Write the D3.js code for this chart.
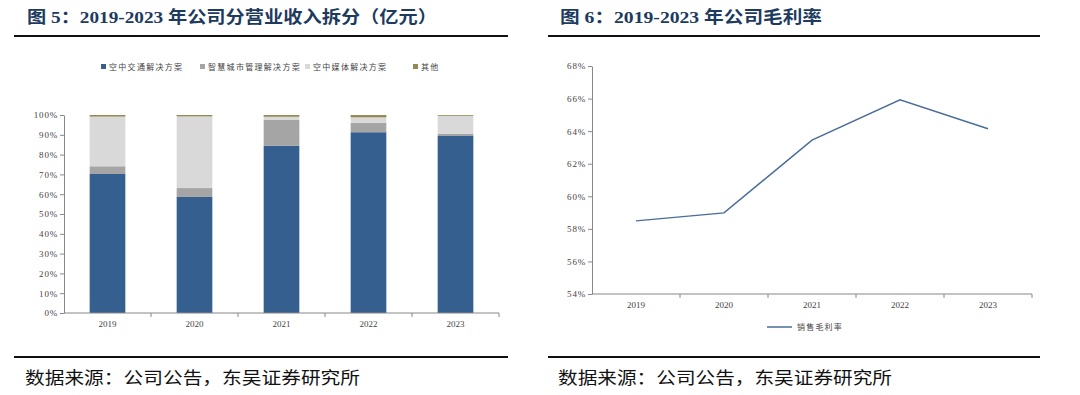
<!DOCTYPE html>
<html>
<head>
<meta charset="utf-8">
<script src="https://cdn.jsdelivr.net/npm/d3@7"></script>
<style>
  body { margin: 0; background: #fff; }
  svg { display: block; }
  .title { font-family: "Liberation Serif", "Noto Sans CJK SC", serif; font-weight: bold; fill: #1d3a5f; }
  .source { font-family: "Liberation Serif", "Noto Sans CJK SC", serif; fill: #111; }
  .axis text { font-family: "Liberation Serif", "Noto Sans CJK SC", serif; fill: #444; }
  .legend text { font-family: "Noto Sans CJK SC", sans-serif; fill: #444; }
</style>
</head>
<body>
<svg id="chart" width="1080" height="395"></svg>
<script>
//Data: revenue split (share of total)
const years = ['2019', '2020', '2021', '2022', '2023'];
const segments = ['空中交通解决方案', '智慧城市管理解决方案', '空中媒体解决方案', '其他'];
const segAir = [70.2, 58.6, 84.5, 91.3, 89.4];
const segCity = [3.9, 4.5, 13.0, 4.8, 1.0];
const segMedia = [25.1, 36.2, 1.6, 2.7, 9.2];
const segOther = [0.8, 0.7, 0.9, 1.2, 0.4];
const segColors = ['#355f8f', '#a5a5a5', '#d9d9d9', '#948a54'];

//Data: gross margin
const marginName = '销售毛利率';
const marginValues = [58.49, 58.98, 63.45, 65.93, 64.15];

const pctTicksLeft = [0, 10, 20, 30, 40, 50, 60, 70, 80, 90, 100];
const pctTicksRight = [54, 56, 58, 60, 62, 64, 66, 68];

const svg = d3.select('#chart');

//Header / footer of each panel
function panelFrame(x0, x1, tx, title, titleLen, srcX, srcLen){
	svg.append('text')
		.attr('class', 'title')
		.attr('x', tx).attr('y', 23)
		.attr('font-size', 17)
		.attr('textLength', titleLen)
		.attr('lengthAdjust', 'spacingAndGlyphs')
		.text(title);

	svg.append('line')
		.attr('x1', x0).attr('x2', x1)
		.attr('y1', 36).attr('y2', 36)
		.style('stroke', '#111').style('stroke-width', 2);

	svg.append('line')
		.attr('x1', x0).attr('x2', x1)
		.attr('y1', 357).attr('y2', 357)
		.style('stroke', '#111').style('stroke-width', 2);

	svg.append('text')
		.attr('class', 'source')
		.attr('x', srcX).attr('y', 384)
		.attr('font-size', 17)
		.attr('textLength', srcLen)
		.attr('lengthAdjust', 'spacingAndGlyphs')
		.text('数据来源：公司公告，东吴证券研究所');
}

panelFrame(14, 508, 27, '图 5：2019-2023 年公司分营业收入拆分（亿元）', 410, 25, 335);
panelFrame(548, 1040, 560, '图 6：2019-2023 年公司毛利率', 262, 558, 334);

//Left chart: stacked bars
(function(){
	const x = d3.scaleBand().domain(years).range([64, 499]).paddingInner(0.59).paddingOuter(0.295);
	const xb = d3.scaleBand().domain(years).range([64, 499]);
	const y = d3.scaleLinear().domain([0, 100]).range([313, 115]);

	const rows = years.map((yr, i) => ({year: yr, s0: segAir[i], s1: segCity[i], s2: segMedia[i], s3: segOther[i]}));
	const stack = d3.stack().keys(['s0', 's1', 's2', 's3'])(rows);

	const g = svg.append('g');
	g.selectAll('.layer')
		.data(stack)
		.enter().append('g')
		.attr('class', 'layer')
		.style('fill', (d, i) => segColors[i])
		.selectAll('rect')
		.data(d => d)
		.enter().append('rect')
		.attr('x', d => x(d.data.year))
		.attr('width', x.bandwidth())
		.attr('y', d => y(Math.min(d[1], 100)))
		.attr('height', d => y(d[0]) - y(Math.min(d[1], 100)));

	//y axis
	const ya = g.append('g').attr('class', 'axis')
		.attr('transform', 'translate(64,0)')
		.call(d3.axisLeft(y).tickValues(pctTicksLeft).tickFormat(d => d + '%').tickSize(4).tickSizeOuter(0));
	ya.select('.domain').style('stroke', '#888');
	ya.selectAll('line').style('stroke', '#888');
	ya.selectAll('text').attr('font-size', 9).attr('letter-spacing', 0.8).attr('x', -6);

	//x axis with ticks between categories
	const xa = g.append('g').attr('class', 'axis').attr('transform', 'translate(0,313)');
	xa.append('line').attr('x1', 64).attr('x2', 499).style('stroke', '#888');
	xa.selectAll('.tk')
		.data(years.slice(1).concat(['end']))
		.enter().append('line')
		.attr('x1', (d, i) => i < 4 ? xb(d) : 499)
		.attr('x2', (d, i) => i < 4 ? xb(d) : 499)
		.attr('y1', 0).attr('y2', 4)
		.style('stroke', '#888');
	xa.selectAll('text')
		.data(years)
		.enter().append('text')
		.attr('x', d => xb(d) + xb.bandwidth() / 2)
		.attr('y', 14)
		.attr('text-anchor', 'middle')
		.attr('font-size', 9)
		.text(d => d);

	//legend
	const legX = [101, 200, 305, 413];
	const lg = g.append('g').attr('class', 'legend');
	lg.selectAll('rect')
		.data(segments)
		.enter().append('rect')
		.attr('x', (d, i) => legX[i]).attr('y', 64)
		.attr('width', 5).attr('height', 5)
		.style('fill', (d, i) => segColors[i]);
	lg.selectAll('text')
		.data(segments)
		.enter().append('text')
		.attr('x', (d, i) => legX[i] + 8).attr('y', 69.5)
		.attr('font-size', 8)
		.attr('letter-spacing', 1.3)
		.text(d => d);
})();

//Right chart: gross margin line
(function(){
	const x = d3.scaleBand().domain(years).range([592, 1032]);
	const y = d3.scaleLinear().domain([54, 68]).range([294, 66]);

	const g = svg.append('g');

	const ya = g.append('g').attr('class', 'axis')
		.attr('transform', 'translate(592,0)')
		.call(d3.axisLeft(y).tickValues(pctTicksRight).tickFormat(d => d + '%').tickSize(4).tickSizeOuter(0));
	ya.select('.domain').style('stroke', '#888');
	ya.selectAll('line').style('stroke', '#888');
	ya.selectAll('text').attr('font-size', 9).attr('letter-spacing', 0.8).attr('x', -6);

	const xa = g.append('g').attr('class', 'axis').attr('transform', 'translate(0,294)');
	xa.append('line').attr('x1', 592).attr('x2', 1032).style('stroke', '#888');
	xa.selectAll('.tk')
		.data(years.slice(1).concat(['end']))
		.enter().append('line')
		.attr('x1', (d, i) => i < 4 ? x(d) : 1032)
		.attr('x2', (d, i) => i < 4 ? x(d) : 1032)
		.attr('y1', 0).attr('y2', 4)
		.style('stroke', '#888');
	xa.selectAll('text')
		.data(years)
		.enter().append('text')
		.attr('x', d => x(d) + x.bandwidth() / 2)
		.attr('y', 14)
		.attr('text-anchor', 'middle')
		.attr('font-size', 9)
		.text(d => d);

	const line = d3.line()
		.x((d, i) => x(years[i]) + x.bandwidth() / 2)
		.y(d => y(d));

	g.append('path')
		.datum(marginValues)
		.attr('d', line)
		.style('fill', 'none')
		.style('stroke', '#4a6d9a')
		.style('stroke-width', 1.5);

	//legend
	const lg = g.append('g').attr('class', 'legend');
	lg.append('line')
		.attr('x1', 767).attr('x2', 792)
		.attr('y1', 327).attr('y2', 327)
		.style('stroke', '#4a6d9a').style('stroke-width', 1.5);
	lg.append('text')
		.attr('x', 797).attr('y', 330)
		.attr('font-size', 8)
		.attr('letter-spacing', 1.2)
		.text(marginName);
})();
</script>
</body>
</html>
